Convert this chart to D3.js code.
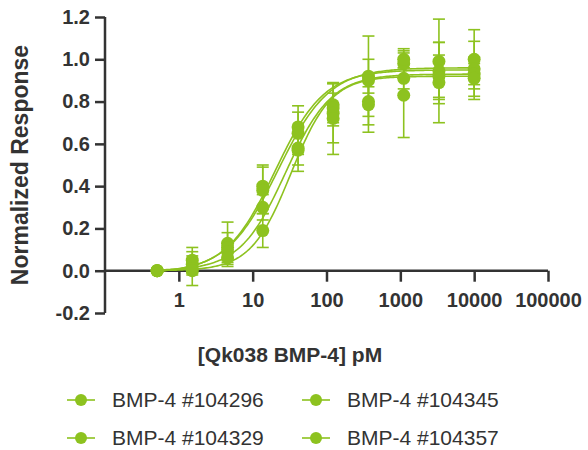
<!DOCTYPE html>
<html>
<head>
<meta charset="utf-8">
<script src="https://cdn.jsdelivr.net/npm/d3@7"></script>
<style>
  body { margin: 0; background: #fff; }
  svg { display: block; }
</style>
</head>
<body>
<svg class="chart" width="588" height="450"></svg>
<script>
const GREEN = "#8dc21f";
const INK = "#333333";
const FONT = "'Liberation Sans', Arial, Helvetica, sans-serif";

// concentrations in pM (3-fold dilution)
var concentrations = [0.508, 1.52, 4.57, 13.7, 41.2, 123, 370, 1111, 3333, 10000];

var seriesNames = ["BMP-4 #104296", "BMP-4 #104329", "BMP-4 #104345", "BMP-4 #104357"];

// normalized response, one array per lot
var resp104296 = [0.00, 0.05, 0.13, 0.40, 0.68, 0.785, 0.92, 0.98, 0.99, 1.00];
var resp104329 = [0.00, 0.03, 0.11, 0.38, 0.65, 0.77, 0.90, 1.00, 0.945, 0.955];
var resp104345 = [0.00, 0.01, 0.09, 0.30, 0.58, 0.745, 0.80, 0.91, 0.92, 0.93];
var resp104357 = [0.00, 0.00, 0.06, 0.19, 0.57, 0.72, 0.785, 0.83, 0.89, 0.91];

// SD for each point
var sd104296 = [0, 0.06, 0.10, 0.10, 0.10, 0.10, 0.08, 0.07, 0.20, 0.14];
var sd104329 = [0, 0.04, 0.07, 0.11, 0.10, 0.07, 0.21, 0.04, 0.135, 0.13];
var sd104345 = [0, 0.08, 0.04, 0.06, 0.08, 0.14, 0.07, 0.05, 0.10, 0.05];
var sd104357 = [0, 0.02, 0.04, 0.08, 0.10, 0.17, 0.13, 0.20, 0.19, 0.10];

// 4PL fit: bottom, top, EC50 (pM), hill slope
var fitBottom = [-0.01, -0.01, 0.0, 0.0];
var fitTop = [0.95, 0.96, 0.93, 0.92];
var fitEC50 = [20, 22, 28, 33];
var fitHill = [1.3, 1.25, 1.4, 1.6];

var yTicks = [-0.2, 0.0, 0.2, 0.4, 0.6, 0.8, 1.0, 1.2];
var xTicks = [1, 10, 100, 1000, 10000, 100000];

var responses = [resp104296, resp104329, resp104345, resp104357];
var sds = [sd104296, sd104329, sd104345, sd104357];

var chart = d3.select(".chart");

var x = d3.scaleLog().domain([0.1, 100000]).range([105, 548]);
var y = d3.scaleLinear().domain([-0.2, 1.2]).range([313, 17]);

// Axes
var yAxis = chart.append("g")
   .attr("transform", "translate(105,0)")
   .call(d3.axisLeft(y).tickValues(yTicks).tickSize(10).tickPadding(5).tickFormat(d3.format(".1f")));
var xAxis = chart.append("g")
   .attr("transform", "translate(0," + y(0) + ")")
   .call(d3.axisBottom(x).tickValues(xTicks).tickSize(11).tickPadding(11).tickFormat(d3.format("d")));

[yAxis, xAxis].forEach(function(ax) {
   ax.select(".domain").attr("stroke", INK).attr("stroke-width", 2.5);
   ax.selectAll(".tick line").attr("stroke", INK).attr("stroke-width", 2.5);
   ax.selectAll(".tick text")
     .attr("fill", INK)
     .attr("font-family", FONT)
     .attr("font-size", "20px")
     .attr("font-weight", "bold");
});
yAxis.select(".domain").attr("d", "M0," + y(-0.2) + "V" + y(1.2));
xAxis.select(".domain").attr("d", "M" + x(0.1) + ",0H" + x(100000));
yAxis.selectAll(".tick text").text(function(d) { return d3.format(".1f")(d).replace("−", "-"); });

// Axis titles
chart.append("text")
   .attr("transform", "translate(28," + 165 + ") rotate(-90)")
   .attr("text-anchor", "middle")
   .attr("font-family", FONT)
   .attr("font-size", "23px")
   .attr("font-weight", "bold")
   .attr("fill", INK)
   .text("Normalized Response");

chart.append("text")
   .attr("x", 290)
   .attr("y", 362)
   .attr("text-anchor", "middle")
   .attr("font-family", FONT)
   .attr("font-size", "21px")
   .attr("font-weight", "bold")
   .attr("fill", INK)
   .text("[Qk038 BMP-4] pM");

// Fitted curves
var curveX = d3.range(0, 201).map(function(i) {
   return Math.pow(10, Math.log10(concentrations[0]) + i / 200 * (Math.log10(10000) - Math.log10(concentrations[0])));
});
var line = d3.line()
   .x(function(d) { return x(d[0]); })
   .y(function(d) { return y(d[1]); });

var curves = chart.append("g");
seriesNames.forEach(function(name, s) {
   var pts = curveX.map(function(c) {
      return [c, fitBottom[s] + (fitTop[s] - fitBottom[s]) / (1 + Math.pow(fitEC50[s] / c, fitHill[s]))];
   });
   curves.append("path")
      .attr("d", line(pts))
      .attr("fill", "none")
      .attr("stroke", GREEN)
      .attr("stroke-width", 1.6);
});

// Error bars
var CAP = 6;
var errs = chart.append("g").attr("stroke", GREEN).attr("stroke-width", 1.6);
responses.forEach(function(r, s) {
   r.forEach(function(v, i) {
      var e = sds[s][i];
      if (e <= 0) return;
      var cx = x(concentrations[i]);
      errs.append("line").attr("x1", cx).attr("x2", cx).attr("y1", y(v - e)).attr("y2", y(v + e));
      errs.append("line").attr("x1", cx - CAP).attr("x2", cx + CAP).attr("y1", y(v + e)).attr("y2", y(v + e));
      errs.append("line").attr("x1", cx - CAP).attr("x2", cx + CAP).attr("y1", y(v - e)).attr("y2", y(v - e));
   });
});

// Points
var dots = chart.append("g");
responses.forEach(function(r, s) {
   dots.selectAll(null)
      .data(r)
      .enter().append("circle")
      .attr("cx", function(d, i) { return x(concentrations[i]); })
      .attr("cy", function(d) { return y(d); })
      .attr("r", 6.5)
      .attr("fill", GREEN);
});

// Legend
var legendPos = [[67, 400], [302, 400], [67, 438], [302, 438]];
var legendOrder = [0, 2, 1, 3];
var legend = chart.append("g");
legendOrder.forEach(function(s, k) {
   var p = legendPos[k];
   var g = legend.append("g").attr("transform", "translate(" + p[0] + "," + p[1] + ")");
   g.append("line").attr("x1", 0).attr("x2", 28).attr("y1", 0).attr("y2", 0)
    .attr("stroke", GREEN).attr("stroke-width", 1.6);
   g.append("circle").attr("cx", 14).attr("cy", 0).attr("r", 6).attr("fill", GREEN);
   g.append("text")
    .attr("x", 45)
    .attr("y", 0)
    .attr("dy", "0.35em")
    .attr("font-family", FONT)
    .attr("font-size", "21px")
    .attr("fill", INK)
    .text(seriesNames[s]);
});
</script>
</body>
</html>
